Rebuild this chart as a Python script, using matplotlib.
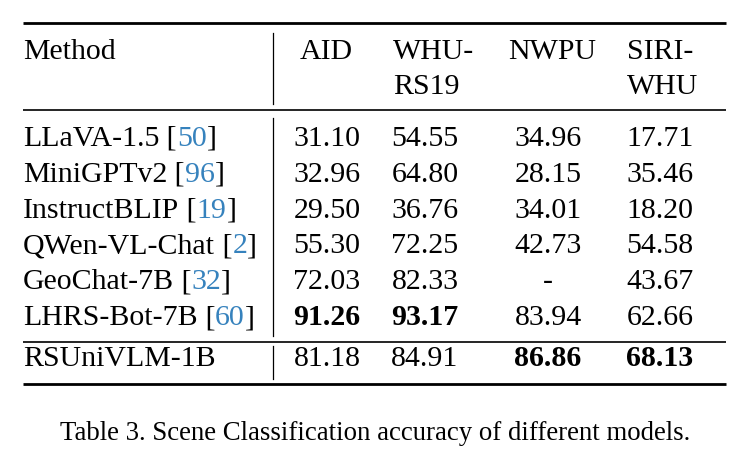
import matplotlib.pyplot as plt

# table contents
methods = ["LLaVA-1.5", "MiniGPTv2", "InstructBLIP", "QWen-VL-Chat",
           "GeoChat-7B", "LHRS-Bot-7B", "RSUniVLM-1B"]
cites = ["50", "96", "19", "2", "32", "60", None]
headers = [["AID"], ["WHU-", "RS19"], ["NWPU"], ["SIRI-", "WHU"]]
aid = [31.10, 32.96, 29.50, 55.30, 72.03, 91.26, 81.18]
whu_rs19 = [54.55, 64.80, 36.76, 72.25, 82.33, 93.17, 84.91]
nwpu = [34.96, 28.15, 34.01, 42.73, None, 83.94, 86.86]
siri_whu = [17.71, 35.46, 18.20, 54.58, 43.67, 62.66, 68.13]
caption = "Table 3. Scene Classification accuracy of different models."

columns = [aid, whu_rs19, nwpu, siri_whu]
CITE_BLUE = "#3682BD"
FONT = "Liberation Serif"
FS = 21.5

fig = plt.figure(figsize=(7.47, 4.59), dpi=100)
ax = fig.add_axes([0, 0, 1, 1])
ax.set_xlim(0, 747)
ax.set_ylim(459, 0)
ax.axis("off")

# rules
x0, x1 = 23, 726
for y, lw in [(23, 2.0), (110, 1.2), (342, 1.2), (384, 2.0)]:
    ax.plot([x0, x1], [y, y], color="black", lw=lw, solid_capstyle="butt")
vx = 273
for ya, yb in [(33, 104), (118, 336), (346, 379)]:
    ax.plot([vx, vx], [ya, yb], color="black", lw=0.9)

# header
header_x = [300, 393, 508, 627]
ax.text(23, 59, "Method", fontsize=FS, family=FONT, va="baseline", ha="left")
for hx, lines in zip(header_x, headers):
    for k, line in enumerate(lines):
        ax.text(hx, 59 + 34.5 * k, line, fontsize=FS, family=FONT,
                va="baseline", ha="left")

# body
col_centers = [327, 425, 548, 660]
row_base = [146, 182, 218, 253, 289, 325, 366]
fig.canvas.draw()
renderer = fig.canvas.get_renderer()
inv = ax.transData.inverted()

for i, name in enumerate(methods):
    yb = row_base[i]
    t = ax.text(23, yb, name, fontsize=FS, family=FONT, va="baseline", ha="left")
    if cites[i] is not None:
        bb = t.get_window_extent(renderer)
        xe = inv.transform((bb.x1, bb.y0))[0]
        parts = [(" [", "black"), (cites[i], CITE_BLUE), ("]", "black")]
        for txt, c in parts:
            p = ax.text(xe, yb, txt, fontsize=FS, family=FONT, color=c,
                        va="baseline", ha="left")
            pb = p.get_window_extent(renderer)
            xe = inv.transform((pb.x1, pb.y0))[0]

    for j, col in enumerate(columns):
        v = col[i]
        label = "-" if v is None else f"{v:.2f}"
        vals = [c for c in col if c is not None]
        best = v is not None and v == max(vals)
        ax.text(col_centers[j], yb, label, fontsize=FS, family=FONT,
                va="baseline", ha="center",
                fontweight="bold" if best else "normal")

ax.text(375, 440, caption, fontsize=19.3, family=FONT, va="baseline", ha="center")

fig.savefig("out.png", dpi=100)
